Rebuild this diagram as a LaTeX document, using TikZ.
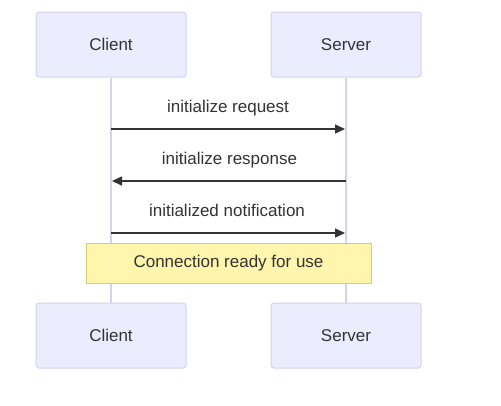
\documentclass[tikz,border=0pt]{standalone}
\usepackage{fontspec}
\setmainfont{Liberation Sans}
\usetikzlibrary{arrows.meta}
\definecolor{actfill}{HTML}{ECECFF}
\definecolor{actline}{HTML}{D6D0F4}
\definecolor{notefill}{HTML}{FFF5AD}
\definecolor{noteline}{HTML}{D4CF6E}
\definecolor{txt}{HTML}{333333}
\begin{document}
\begin{tikzpicture}[x=1pt,y=-1pt,
  fnt/.style={font=\fontsize{17}{20}\selectfont},
  actor/.style={draw=actline,fill=actfill,line width=1pt,rounded corners=3pt,minimum width=150pt,minimum height=65pt,inner sep=0pt,text=txt,fnt},
  lifeline/.style={draw=actline,line width=1.5pt},
  msg/.style={draw=txt,line width=1.6pt,-{Triangle[length=10pt,width=9pt]}},
  lbl/.style={text=txt,fnt,inner sep=0pt,text depth=0pt},
  note/.style={draw=noteline,fill=notefill,line width=1pt,minimum width=285pt,minimum height=40pt,inner sep=0pt,text=txt,fnt}]
\useasboundingbox (0,0) rectangle (501,405);
\fill[white] (0,0) rectangle (501,405);
\node[actor] (ct) at (111,44.5) {\raisebox{-1.5pt}{Client}};
\node[actor] (st) at (346,44.5) {\raisebox{-1.5pt}{Server}};
\node[actor] (cb) at (111,335.5) {\raisebox{-1.5pt}{Client}};
\node[actor] (sb) at (346,335.5) {\raisebox{-1.5pt}{Server}};
\draw[lifeline] (ct.south) -- (cb.north);
\draw[lifeline] (st.south) -- (sb.north);
\coordinate (c1) at (111,129); \coordinate (s1) at (345,129);
\coordinate (c2) at (112,181); \coordinate (s2) at (346,181);
\coordinate (c3) at (111,233); \coordinate (s3) at (345,233);
\draw[msg] (c1) -- (s1);
\draw[msg] (s2) -- (c2);
\draw[msg] (c3) -- (s3);
\node[lbl] (l1) at (228,106) {initialize request};
\node[lbl] (l2) at (229.5,158) {initialize response};
\node[lbl] (l3) at (227,210) {initialized notification};
\node[note] (n) at (228.5,263) {\raisebox{-1.5pt}{Connection ready for use}};
\end{tikzpicture}
\end{document}
